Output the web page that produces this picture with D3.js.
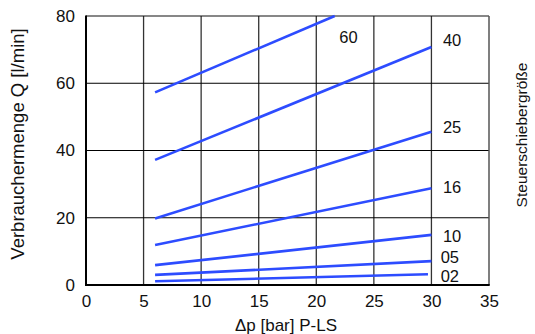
<!DOCTYPE html>
<html>
<head>
<meta charset="utf-8">
<script src="https://cdn.jsdelivr.net/npm/d3@7"></script>
<style>
  html, body { margin: 0; padding: 0; background: #fff; }
  svg { display: block; font-family: "Liberation Sans", Arial, sans-serif; }
</style>
</head>
<body>
<svg id="chart" width="535" height="334"></svg>
<script>
// Spool sizes (Steuerschiebergröße) and the flow line of each: start/end pressure and flow
const sizes   = ["60", "40", "25", "16", "10", "05", "02"];
const dpStart = [6, 6, 6, 6, 6, 6, 6];
const dpEnd   = [21.6, 30, 30, 30, 30, 30, 29.7];
const qStart  = [57.3, 37.2, 19.8, 11.9, 5.9, 3.0, 1.1];
const qEnd    = [80, 70.8, 45.6, 28.75, 14.9, 7.1, 3.2];

// Where each size label sits, in chart units
const labelDp = [22, 31, 31, 31, 31, 30.8, 30.8];
const labelQ  = [73.7, 72.9, 46.8, 29.2, 14.4, 8.2, 2.7];

const xTicks = [0, 5, 10, 15, 20, 25, 30, 35];
const yTicks = [0, 20, 40, 60, 80];

const svg = d3.select("#chart");
const plotL = 86, plotR = 489, plotT = 16, plotB = 285;

const x = d3.scaleLinear().domain([0, 35]).range([plotL, plotR]);
const y = d3.scaleLinear().domain([0, 80]).range([plotB, plotT]);

// vertical grid
svg.append("g")
  .selectAll("line")
  .data(xTicks.filter(d => d > 0 && d < 35))
  .join("line")
  .attr("x1", d => x(d)).attr("x2", d => x(d))
  .attr("y1", y(80)).attr("y2", y(0))
  .attr("stroke", "#333").attr("stroke-width", 1.3);

// horizontal grid
svg.append("g")
  .selectAll("line")
  .data(yTicks.filter(d => d > 0 && d < 80))
  .join("line")
  .attr("x1", x(0)).attr("x2", x(35))
  .attr("y1", d => y(d)).attr("y2", d => y(d))
  .attr("stroke", "#000").attr("stroke-width", 1);

// frame: top and right thin, left and bottom heavy
svg.append("line").attr("x1", x(0)).attr("x2", x(35)).attr("y1", y(80)).attr("y2", y(80))
  .attr("stroke", "#111").attr("stroke-width", 1.2);
svg.append("line").attr("x1", x(35)).attr("x2", x(35)).attr("y1", y(80)).attr("y2", y(0))
  .attr("stroke", "#555").attr("stroke-width", 1.5);
svg.append("line").attr("x1", x(0)).attr("x2", x(0)).attr("y1", y(80) - 0.5).attr("y2", y(0) + 1)
  .attr("stroke", "#000").attr("stroke-width", 2);
svg.append("line").attr("x1", x(0) - 1).attr("x2", x(35) + 0.7).attr("y1", y(0)).attr("y2", y(0))
  .attr("stroke", "#000").attr("stroke-width", 2);

// axes (labels only)
const xAxis = svg.append("g")
  .attr("transform", `translate(0,${plotB + 9})`)
  .call(d3.axisBottom(x).tickValues(xTicks).tickSize(0).tickPadding(0).tickFormat(d3.format("d")));
const yAxis = svg.append("g")
  .attr("transform", `translate(${plotL - 11},0)`)
  .call(d3.axisLeft(y).tickValues(yTicks).tickSize(0).tickPadding(0).tickFormat(d3.format("d")));
[xAxis, yAxis].forEach(g => {
  g.select(".domain").remove();
  g.selectAll("text").attr("font-size", 17).attr("fill", "#111")
    .attr("font-family", "Liberation Sans, Arial, sans-serif");
});
xAxis.selectAll("text").attr("dy", "0.75em");

// flow lines
const rows = sizes.map((s, i) => ({
  size: s,
  pts: [[dpStart[i], qStart[i]], [dpEnd[i], qEnd[i]]],
  lx: labelDp[i], ly: labelQ[i]
}));
const line = d3.line().x(d => x(d[0])).y(d => y(d[1]));

svg.append("g")
  .selectAll("path")
  .data(rows)
  .join("path")
  .attr("d", d => line(d.pts))
  .attr("fill", "none")
  .attr("stroke", "#2d4cff")
  .attr("stroke-width", 2.6);

svg.append("g")
  .selectAll("text")
  .data(rows)
  .join("text")
  .attr("x", d => x(d.lx))
  .attr("y", d => y(d.ly))
  .attr("dy", "0.35em")
  .attr("font-size", 16.5)
  .attr("fill", "#111")
  .text(d => d.size);

// titles
svg.append("text")
  .attr("transform", `translate(24,144) rotate(-90)`)
  .attr("text-anchor", "middle")
  .attr("font-size", 18.5)
  .attr("fill", "#111")
  .text("Verbrauchermenge Q [l/min]");

svg.append("text")
  .attr("x", 286).attr("y", 331)
  .attr("text-anchor", "middle")
  .attr("font-size", 17)
  .attr("fill", "#111")
  .text("Δp [bar] P-LS");

svg.append("text")
  .attr("transform", `translate(527,135) rotate(-90)`)
  .attr("text-anchor", "middle")
  .attr("font-size", 15.5)
  .attr("fill", "#111")
  .text("Steuerschiebergröße");
</script>
</body>
</html>
